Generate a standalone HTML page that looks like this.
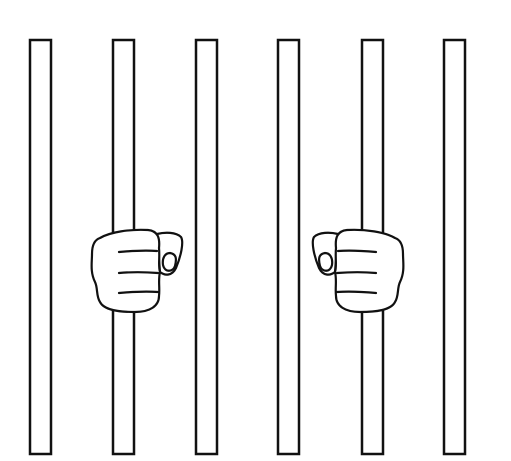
<!DOCTYPE html>
<html><head><meta charset="utf-8"><style>html,body{margin:0;padding:0;background:#fff}svg{display:block}</style></head>
<body>
<svg width="511" height="461" viewBox="0 0 511 461">
<g fill="#fff" stroke="#111" stroke-width="2.5">
<rect x="30" y="40" width="21" height="414"/>
<rect x="113" y="40" width="21" height="414"/>
<rect x="196" y="40" width="21" height="414"/>
<rect x="278" y="40" width="21" height="414"/>
<rect x="362" y="40" width="21" height="414"/>
<rect x="444" y="40" width="21" height="414"/>
</g>
<g id="hand" fill="#fff" stroke="#111" stroke-width="2.2" stroke-linejoin="round" stroke-linecap="round">
<path d="M157,234 C165,232 176,232 181,237 C184,242 181,256 176,268 C172,276 165,276 160,272 Z"/>
<path d="M100,238 C110,232 130,229 148,230 C158,231 160,238 159,248 C160,258 158,266 160,272 C158,280 160,288 159,296 C159,306 150,312 135,312 C118,312 104,310 100,302 C96,296 98,288 95,282 C90,272 92,262 92,254 C92,246 94,240 100,238 Z"/>
<path d="M163,265 C162,258 165,253 170,253 C176,254 177,258 175,266 C173,272 165,273 163,265 Z"/>
<path d="M119,252 C130,251 145,250 157,251" fill="none"/>
<path d="M119,273 C130,272 145,272 158,273" fill="none"/>
<path d="M119,293 C130,292 145,291 158,292" fill="none"/>
</g>
<g transform="translate(495,0) scale(-1,1)" fill="#fff" stroke="#111" stroke-width="2.2" stroke-linejoin="round" stroke-linecap="round">
<path d="M157,234 C165,232 176,232 181,237 C184,242 181,256 176,268 C172,276 165,276 160,272 Z"/>
<path d="M100,238 C110,232 130,229 148,230 C158,231 160,238 159,248 C160,258 158,266 160,272 C158,280 160,288 159,296 C159,306 150,312 135,312 C118,312 104,310 100,302 C96,296 98,288 95,282 C90,272 92,262 92,254 C92,246 94,240 100,238 Z"/>
<path d="M163,265 C162,258 165,253 170,253 C176,254 177,258 175,266 C173,272 165,273 163,265 Z"/>
<path d="M119,252 C130,251 145,250 157,251" fill="none"/>
<path d="M119,273 C130,272 145,272 158,273" fill="none"/>
<path d="M119,293 C130,292 145,291 158,292" fill="none"/>
</g>
</svg>
</body></html>
